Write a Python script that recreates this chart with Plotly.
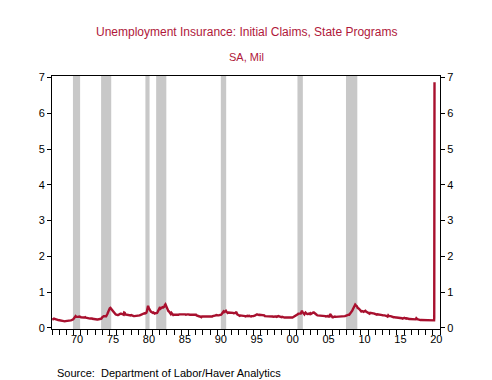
import pandas as pd
import plotly.graph_objects as go

# Initial claims, state programs, SA, thousands (monthly approximations)
claims_1967_1979 = [
    230, 245, 255, 260, 255, 245, 240, 235, 230, 225, 220, 215,
    210, 205, 200, 195, 195, 195, 190, 195, 190, 185, 190, 190,
    190, 195, 190, 195, 200, 200, 205, 210, 215, 220, 230, 240,
    265, 280, 300, 330, 310, 305, 300, 295, 310, 320, 320, 310,
    295, 290, 285, 290, 295, 290, 290, 300, 285, 280, 275, 265,
    270, 265, 260, 260, 265, 275, 265, 255, 250, 250, 245, 245,
    235, 230, 235, 235, 235, 240, 240, 245, 245, 250, 260, 290,
    315, 320, 330, 330, 320, 325, 325, 345, 390, 430, 490, 540,
    550, 560, 540, 510, 490, 470, 430, 410, 400, 385, 375, 370,
    350, 360, 360, 375, 380, 380, 400, 400, 385, 390, 380, 370,
    430, 420, 380, 375, 375, 370, 380, 370, 370, 360, 350, 350,
    360, 350, 330, 320, 330, 330, 330, 335, 335, 335, 340, 345,
    345, 350, 350, 360, 370, 380, 390, 400, 395, 405, 410, 405,
]
claims_1980s = [
    410, 420, 460, 560, 620, 560, 510, 480, 470, 450, 430, 420,
    420, 430, 410, 400, 410, 410, 410, 420, 450, 480, 520, 560,
    580, 540, 560, 580, 580, 570, 570, 590, 640, 660, 620, 580,
    510, 480, 470, 460, 440, 410, 390, 420, 390, 370, 360, 370,
    370, 350, 350, 370, 370, 360, 360, 370, 380, 380, 390, 400,
    380, 400, 390, 390, 390, 380, 380, 370, 380, 380, 380, 380,
    370, 380, 370, 370, 370, 370, 380, 380, 360, 370, 370, 380,
    370, 350, 340, 330, 320, 320, 320, 320, 300, 300, 320, 320,
    320, 310, 310, 310, 300, 310, 310, 320, 320, 300, 300, 300,
    300, 300, 310, 320, 330, 330, 340, 340, 340, 350, 360, 350,
]
claims_1990s = [
    340, 350, 350, 350, 350, 360, 370, 390, 420, 440, 460, 440,
    450, 470, 480, 450, 430, 420, 430, 430, 430, 440, 440, 440,
    430, 420, 420, 410, 410, 420, 420, 450, 400, 380, 370, 350,
    340, 340, 350, 350, 350, 340, 340, 340, 330, 340, 330, 320,
    330, 340, 340, 330, 350, 340, 330, 320, 320, 330, 320, 330,
    330, 330, 340, 350, 360, 380, 380, 370, 360, 360, 370, 370,
    360, 370, 350, 370, 360, 350, 350, 330, 330, 330, 340, 340,
    340, 330, 320, 320, 320, 330, 330, 320, 320, 310, 320, 330,
    320, 320, 310, 310, 320, 340, 330, 320, 310, 300, 300, 300,
    310, 300, 290, 290, 290, 290, 290, 280, 290, 290, 280, 280,
]
claims_2000s = [
    280, 280, 270, 270, 280, 290, 300, 310, 310, 310, 320, 340,
    350, 370, 380, 400, 400, 410, 400, 400, 440, 480, 440, 410,
    390, 380, 410, 430, 410, 390, 390, 390, 410, 400, 390, 410,
    390, 400, 420, 440, 430, 430, 410, 400, 400, 380, 360, 350,
    350, 350, 350, 340, 340, 340, 340, 340, 350, 340, 340, 340,
    330, 320, 330, 330, 330, 320, 320, 320, 390, 360, 320, 320,
    300, 300, 310, 320, 320, 310, 310, 320, 320, 310, 320, 320,
    310, 330, 320, 320, 310, 320, 310, 320, 320, 330, 340, 350,
    350, 360, 370, 370, 370, 390, 400, 440, 460, 480, 520, 560,
    580, 630, 650, 630, 620, 600, 560, 560, 540, 520, 490, 470,
]
claims_2010s = [
    460, 470, 450, 460, 450, 460, 460, 480, 460, 450, 430, 420,
    410, 400, 400, 420, 420, 420, 410, 410, 410, 400, 400, 390,
    380, 370, 370, 380, 380, 380, 370, 370, 370, 370, 380, 360,
    350, 360, 350, 350, 350, 350, 340, 330, 320, 350, 330, 340,
    330, 330, 320, 310, 310, 310, 300, 300, 290, 290, 290, 290,
    290, 290, 280, 280, 270, 270, 270, 270, 270, 260, 270, 270,
    280, 270, 260, 260, 270, 260, 260, 260, 250, 250, 250, 260,
    250, 240, 240, 240, 240, 240, 240, 240, 270, 240, 240, 240,
    230, 230, 220, 220, 220, 220, 210, 210, 210, 210, 220, 220,
    220, 220, 220, 210, 220, 220, 210, 210, 210, 220, 220, 220,
]
dates_2020 = ["2020-01-15", "2020-02-15", "2020-03-07", "2020-03-14", "2020-03-21", "2020-03-28"]
claims_2020 = [210, 210, 211, 282, 3307, 6867]

recession_starts = ["1969-12-01", "1973-11-01", "1980-01-01", "1981-07-01", "1990-07-01", "2001-03-01", "2007-12-01"]
recession_ends = ["1970-11-30", "1975-03-31", "1980-07-31", "1982-11-30", "1991-03-31", "2001-11-30", "2009-06-30"]

year_labels = [1970, 1975, 1980, 1985, 1990, 1995, 2000, 2005, 2010, 2015, 2020]
y_ticks = [0, 1, 2, 3, 4, 5, 6, 7]

monthly = claims_1967_1979 + claims_1980s + claims_1990s + claims_2000s + claims_2010s
monthly_dates = pd.date_range("1967-01-01", periods=len(monthly), freq="MS") + pd.Timedelta(days=14)
x = list(monthly_dates.strftime("%Y-%m-%d")) + dates_2020
y = [v / 1000 for v in monthly + claims_2020]

RED = "#a8102e"
FONT = "Arial, Liberation Sans, sans-serif"

fig = go.Figure()
fig.add_trace(go.Scatter(x=x, y=y, mode="lines", line=dict(color=RED, width=2.4), showlegend=False, hoverinfo="skip"))
fig.add_trace(go.Scatter(x=[x[0]], y=[y[0]], yaxis="y2", mode="lines", line=dict(width=0), showlegend=False, hoverinfo="skip"))

for s, e in zip(recession_starts, recession_ends):
    fig.add_shape(type="rect", xref="x", yref="paper", x0=s, x1=e, y0=0, y1=1,
                  fillcolor="#c8c8c8", line=dict(width=0), layer="below")

yr = [-0.03, 7.04]
fig.update_layout(
    width=492, height=380,
    margin=dict(l=52, r=52, t=76, b=51, autoexpand=False),
    paper_bgcolor="white", plot_bgcolor="white",
    font=dict(family=FONT, size=11, color="black"),
    xaxis=dict(
        type="date", range=["1967-01-01", "2021-01-01"], automargin=False,
        tickvals=[f"{yv}-07-01" for yv in year_labels],
        ticktext=[f"{yv % 100:02d}" for yv in year_labels],
        ticks="", showgrid=False, zeroline=False,
        showline=True, linecolor="black", linewidth=1, mirror=True,
        minor=dict(dtick="M12", tick0="1967-01-01", ticks="outside", ticklen=5, tickcolor="black", showgrid=False),
        tickfont=dict(size=11, family=FONT),
    ),
    yaxis=dict(
        range=yr, tickvals=y_ticks, ticks="outside", ticklen=4, tickcolor="black", automargin=False,
        showgrid=False, zeroline=False, showline=True, linecolor="black", linewidth=1,
        tickfont=dict(size=11, family=FONT),
    ),
    yaxis2=dict(
        range=yr, tickvals=y_ticks, ticks="outside", ticklen=4, tickcolor="black", automargin=False,
        overlaying="y", side="right", showgrid=False, zeroline=False,
        showline=True, linecolor="black", linewidth=1,
        tickfont=dict(size=11, family=FONT),
    ),
    annotations=[
        dict(text="Unemployment Insurance: Initial Claims, State Programs", xref="paper", yref="paper",
             x=0.5, y=1.174, xanchor="center", yanchor="middle", showarrow=False,
             font=dict(size=12, color="#b0183a", family=FONT)),
        dict(text="SA, Mil", xref="paper", yref="paper",
             x=0.5, y=1.075, xanchor="center", yanchor="middle", showarrow=False,
             font=dict(size=11, color="#b0183a", family=FONT)),
        dict(text="Source:  Department of Labor/Haver Analytics", xref="paper", yref="paper",
             x=0.0077, y=-0.174, xanchor="left", yanchor="middle", showarrow=False,
             font=dict(size=11, color="black", family=FONT)),
    ],
)

fig.write_html("out.html", config={"displayModeBar": False},
               post_script="document.body.style.margin='0px';")
